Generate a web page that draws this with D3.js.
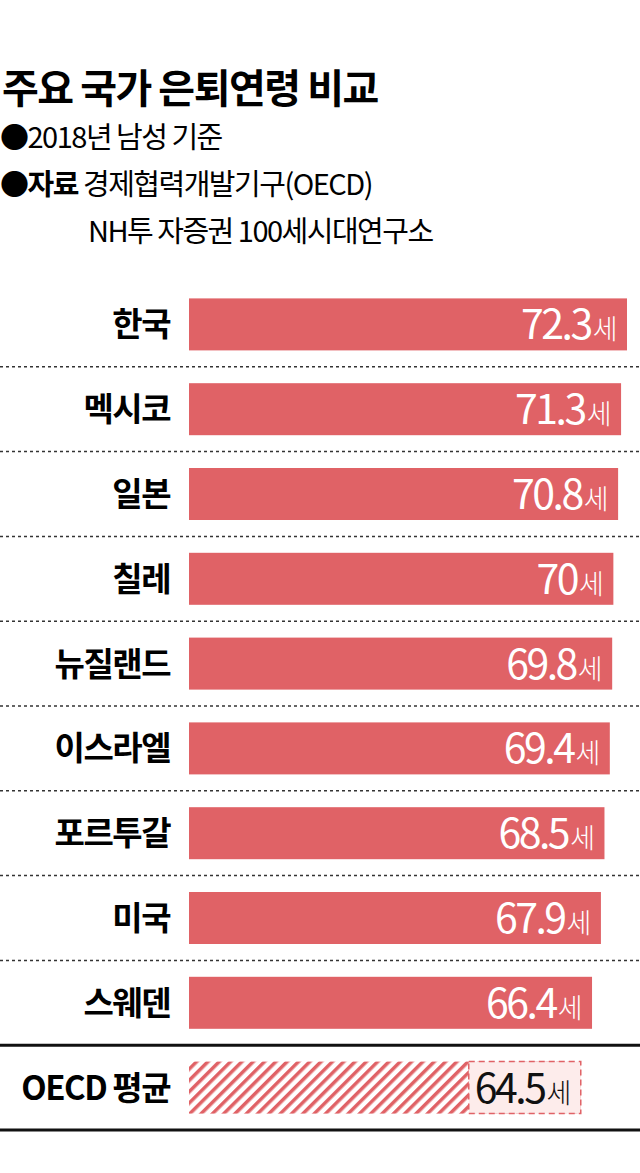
<!DOCTYPE html>
<html><head><meta charset="utf-8">
<script src="https://cdn.jsdelivr.net/npm/d3@7"></script>
<style>body{margin:0;background:#fff}text{font-family:"Noto Sans CJK KR",sans-serif}</style>
</head><body>
<script>
var countries=["한국","멕시코","일본","칠레","뉴질랜드","이스라엘","포르투갈","미국","스웨덴","OECD 평균"];
var ages=[72.3,71.3,70.8,70,69.8,69.4,68.5,67.9,66.4,64.5];
var labels=["72.3","71.3","70.8","70","69.8","69.4","68.5","67.9","66.4","64.5"];

var W=640,H=1173;
var svg=d3.select("body").append("svg").attr("width",W).attr("height",H);
var defs=svg.append("defs");
var pat=defs.append("pattern").attr("id","hatch").attr("patternUnits","userSpaceOnUse")
    .attr("width",8).attr("height",8).attr("patternTransform","rotate(45)");
pat.append("rect").attr("width",8).attr("height",8).attr("fill","#fff");
pat.append("rect").attr("width",3.5).attr("height",8).attr("fill","#e06266");

svg.append("text").attr("x",2).attr("y",103).attr("font-size",40).attr("font-weight",700)
    .attr("letter-spacing",-1.5).text("주요 국가 은퇴연령 비교");
svg.append("text").attr("x",0).attr("y",148).attr("font-size",29).attr("letter-spacing",-1.5).text("●2018년 남성 기준");
var t2=svg.append("text").attr("x",0).attr("y",195).attr("font-size",29).attr("letter-spacing",-1.5);
t2.append("tspan").attr("font-weight",700).text("●자료 ");
t2.append("tspan").text("경제협력개발기구(OECD)");
svg.append("text").attr("x",88).attr("y",242).attr("font-size",29).attr("letter-spacing",-1.5).text("NH투 자증권 100세시대연구소");

var x=d3.scaleLinear().domain([-1.6,72.3]).range([189,627]);
var y=d3.scaleBand().domain(countries).range([282,1130]).paddingInner(0).paddingOuter(0);
var bh=52;

countries.forEach(function(c,i){
    var cy=y(c)+y.bandwidth()/2;
    var last=i===countries.length-1;
    svg.append("text").attr("x",170).attr("y",cy+12).attr("text-anchor","end")
        .attr("font-size",33).attr("font-weight",700).attr("letter-spacing",-1.5).text(c);
    svg.append("rect").attr("x",x(-1.6)).attr("y",cy-bh/2).attr("width",x(ages[i])-x(-1.6)).attr("height",bh)
        .attr("fill",last?"url(#hatch)":"#e06266");
    if(last){
        svg.append("rect").attr("x",x(ages[i])-112).attr("y",cy-bh/2).attr("width",112).attr("height",bh)
            .attr("fill","#fdeceb").attr("stroke","#e06266").attr("stroke-dasharray","6,4").attr("stroke-width",1.5);
    }
    var vt=svg.append("text").attr("x",x(ages[i])-12).attr("y",cy+15).attr("text-anchor","end")
        .attr("fill",last?"#111":"#fff").attr("letter-spacing",-2.5);
    vt.append("tspan").attr("font-size",41).text(labels[i]);
    vt.append("tspan").attr("font-size",27).attr("font-weight",300).attr("dx",2).text("세");
    if(i<countries.length-2){
        svg.append("line").attr("x1",0).attr("x2",W).attr("y1",y(c)+y.bandwidth()).attr("y2",y(c)+y.bandwidth())
            .attr("stroke","#333").attr("stroke-width",1.5).attr("stroke-dasharray","3,3");
    }
});
[y(countries[9]),y(countries[9])+y.bandwidth()].forEach(function(v){
    svg.append("line").attr("x1",0).attr("x2",W).attr("y1",v).attr("y2",v).attr("stroke","#111").attr("stroke-width",3);
});
</script>
</body></html>
